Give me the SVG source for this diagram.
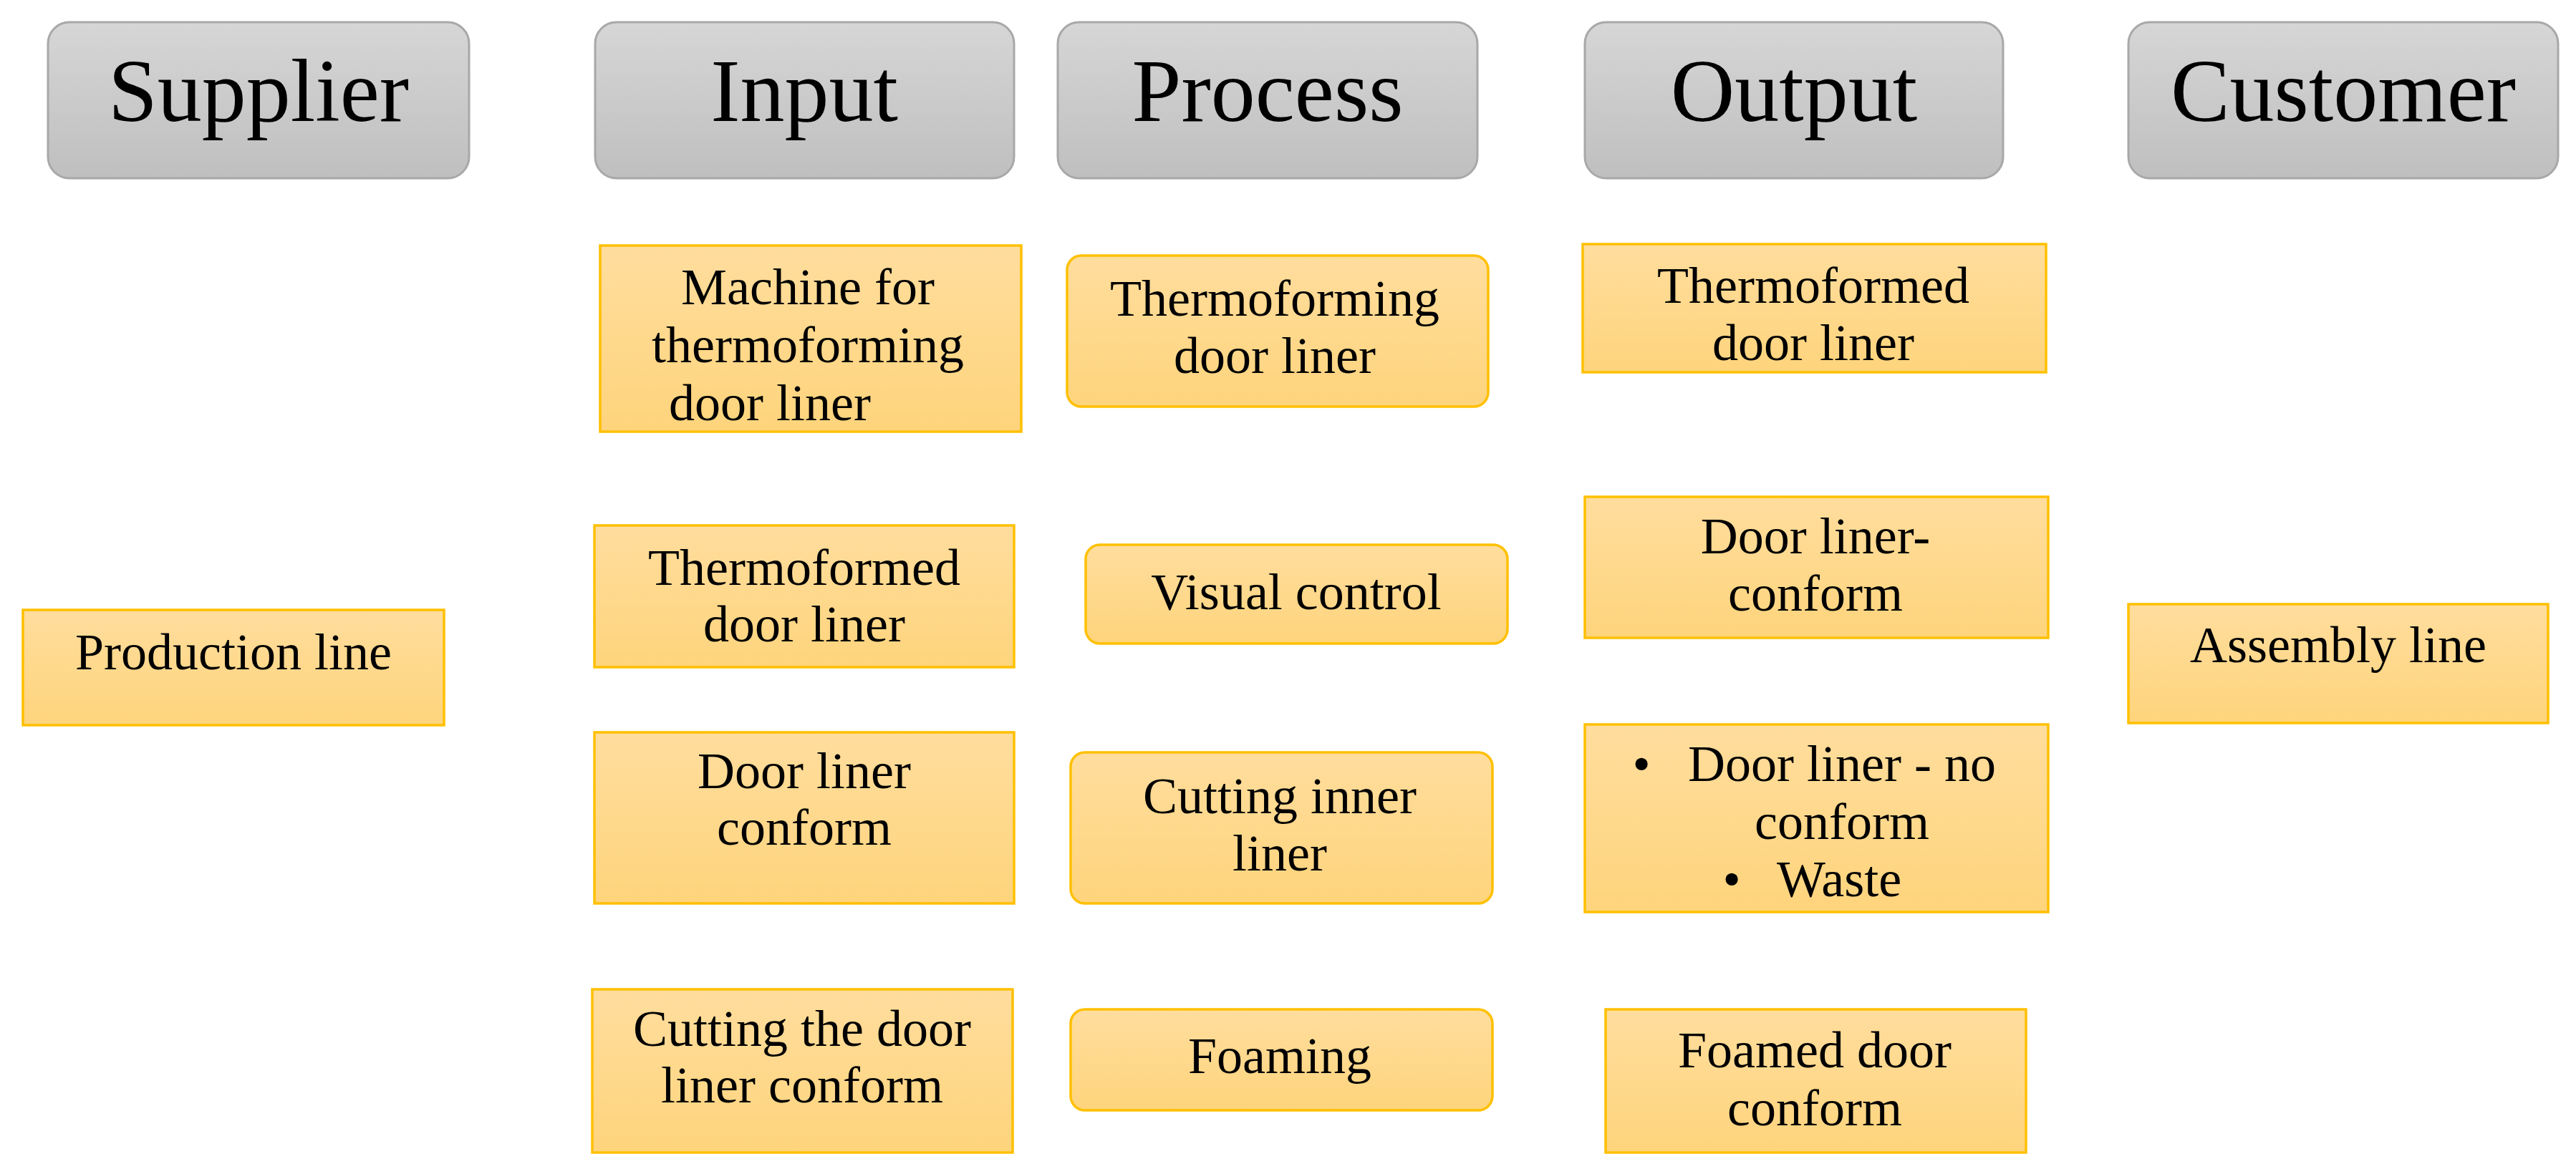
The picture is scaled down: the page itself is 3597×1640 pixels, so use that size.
<svg xmlns="http://www.w3.org/2000/svg" width="3597" height="1640" viewBox="0 0 3597 1640">
<defs>
<linearGradient id="gh" x1="0" y1="0" x2="0" y2="1">
<stop offset="0" stop-color="#d6d6d6"/>
<stop offset="1" stop-color="#bfbfbf"/>
</linearGradient>
<linearGradient id="gy" x1="0" y1="0" x2="0" y2="1">
<stop offset="0" stop-color="#ffdd9d"/>
<stop offset="1" stop-color="#fed47c"/>
</linearGradient>
<style>
.h{fill:url(#gh);stroke:#a8a8a8;stroke-width:3}
.b{fill:url(#gy);stroke:#ffc000;stroke-width:3.5}
.ht{font-family:"Liberation Serif","Times New Roman",serif;font-size:124px;fill:#000;text-anchor:middle}
.t{font-family:"Liberation Serif","Times New Roman",serif;font-size:72px;fill:#000;text-anchor:middle}
.s{text-anchor:start}
</style>
</defs>
<rect width="3597" height="1640" fill="#fff"/>
<g id="hdr-supplier"><rect class="h" x="67" y="31" width="588" height="218" rx="30"/><text class="ht" x="361" y="169">Supplier</text></g>
<g id="hdr-input"><rect class="h" x="831" y="31" width="585" height="218" rx="30"/><text class="ht" x="1123" y="169">Input</text></g>
<g id="hdr-process"><rect class="h" x="1477" y="31" width="586" height="218" rx="30"/><text class="ht" x="1770" y="169">Process</text></g>
<g id="hdr-output"><rect class="h" x="2213" y="31" width="584" height="218" rx="30"/><text class="ht" x="2505" y="169">Output</text></g>
<g id="hdr-customer"><rect class="h" x="2972" y="31" width="600" height="218" rx="30"/><text class="ht" x="3272" y="169">Customer</text></g>

<g id="production-line"><rect class="b" x="32" y="852" width="588" height="161"/><text class="t" x="326" y="935">Production line</text></g>

<g id="in-machine"><rect class="b" x="838" y="343" width="588" height="260"/><text class="t" x="1128" y="425">Machine for</text><text class="t" x="1128" y="506">thermoforming</text><text class="t" x="1075" y="587">door liner</text></g>
<g id="in-thermoformed"><rect class="b" x="830" y="734" width="586" height="198"/><text class="t" x="1123" y="817">Thermoformed</text><text class="t" x="1123" y="896">door liner</text></g>
<g id="in-conform"><rect class="b" x="830" y="1023" width="586" height="239"/><text class="t" x="1123" y="1101">Door liner</text><text class="t" x="1123" y="1180">conform</text></g>
<g id="in-cutting"><rect class="b" x="827" y="1382" width="587" height="228"/><text class="t" x="1120" y="1461">Cutting the door</text><text class="t" x="1120" y="1540">liner conform</text></g>

<g id="pr-thermoforming"><rect class="b" x="1490" y="357" width="588" height="211" rx="20"/><text class="t" x="1780" y="441">Thermoforming</text><text class="t" x="1780" y="521">door liner</text></g>
<g id="pr-visual"><rect class="b" x="1516" y="761" width="589" height="138" rx="20"/><text class="t" x="1810" y="851">Visual control</text></g>
<g id="pr-cutting"><rect class="b" x="1495" y="1051" width="589" height="211" rx="20"/><text class="t" x="1787" y="1136">Cutting inner</text><text class="t" x="1787" y="1216">liner</text></g>
<g id="pr-foaming"><rect class="b" x="1495" y="1410" width="589" height="141" rx="20"/><text class="t" x="1787" y="1499">Foaming</text></g>

<g id="out-thermoformed"><rect class="b" x="2210" y="341" width="647" height="179"/><text class="t" x="2532" y="423">Thermoformed</text><text class="t" x="2532" y="503">door liner</text></g>
<g id="out-conform"><rect class="b" x="2213" y="694" width="647" height="197"/><text class="t" x="2535" y="773">Door liner-</text><text class="t" x="2535" y="853">conform</text></g>
<g id="out-noconform"><rect class="b" x="2213" y="1012" width="647" height="262"/><text class="t" x="2292" y="1091">•</text><text class="t s" x="2357" y="1091">Door liner - no</text><text class="t" x="2572" y="1172">conform</text><text class="t" x="2418" y="1252">•</text><text class="t s" x="2481" y="1252">Waste</text></g>
<g id="out-foamed"><rect class="b" x="2242" y="1410" width="587" height="200"/><text class="t" x="2534" y="1491">Foamed door</text><text class="t" x="2534" y="1572">conform</text></g>

<g id="assembly-line"><rect class="b" x="2972" y="844" width="586" height="166"/><text class="t" x="3265" y="925">Assembly line</text></g>

<g id="connectors"></g>
</svg>
